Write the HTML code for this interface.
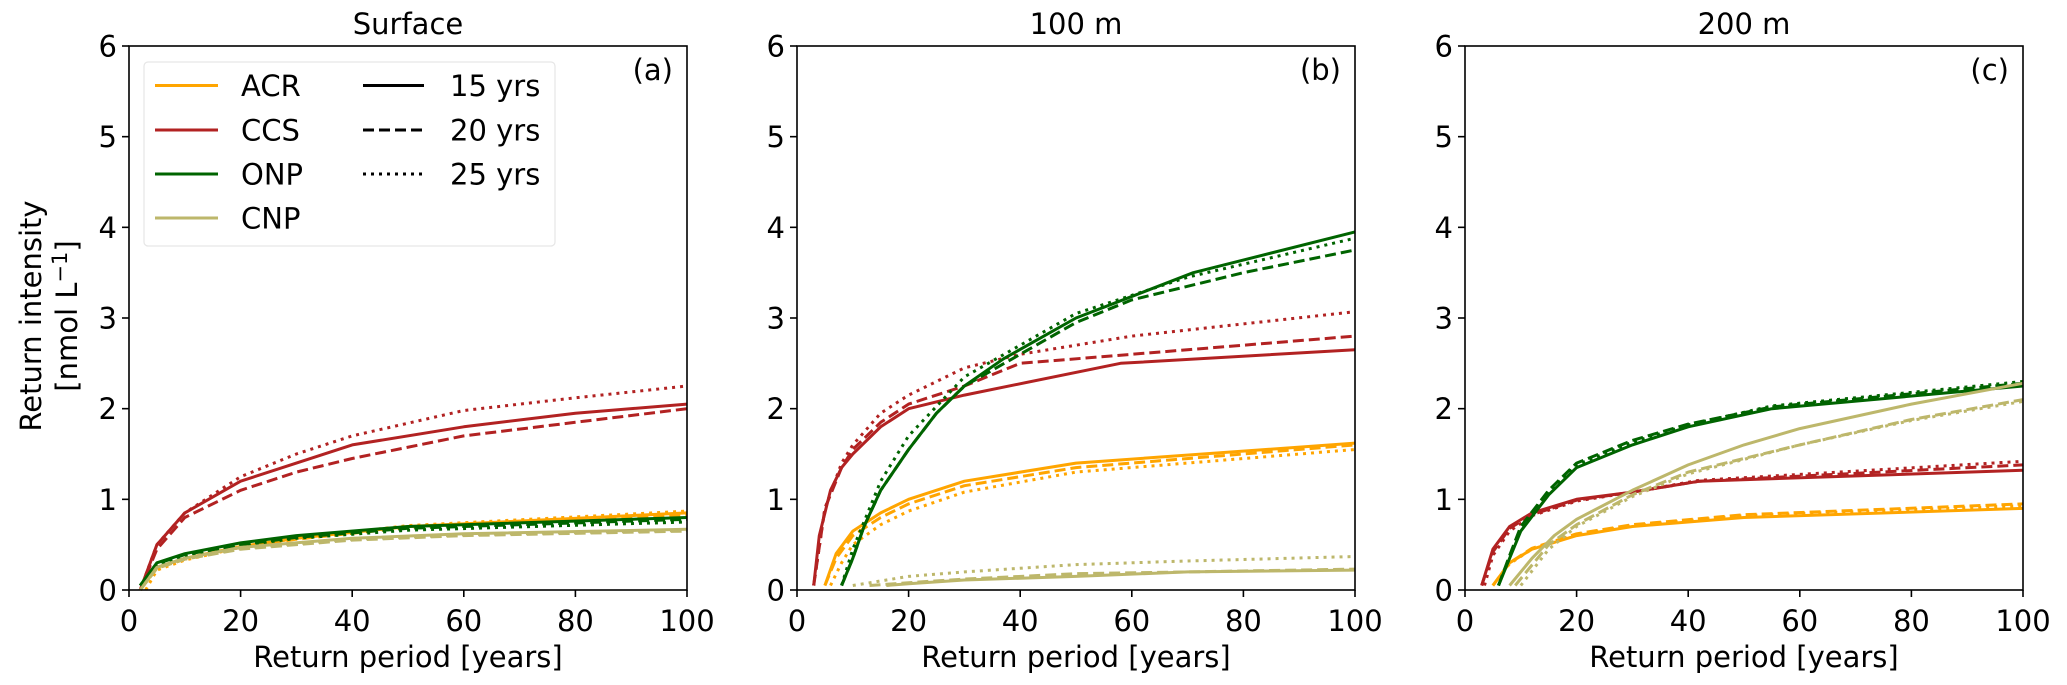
<!DOCTYPE html>
<html><head><meta charset="utf-8">
<style>
html,body{margin:0;padding:0;background:#fff;}
svg{display:block;font-family:"DejaVu Sans","Liberation Sans",sans-serif;}
</style></head>
<body>
<svg id="chart" width="2067" height="685" viewBox="0 0 2067 685" xmlns="http://www.w3.org/2000/svg"></svg>
<script>
// ---- data ----
const xTicks = [0,20,40,60,80,100];
const yTicks = [0,1,2,3,4,5,6];
const panelTitles = ["Surface","100 m","200 m"];
const panelTags = ["(a)","(b)","(c)"];
const regions = ["ACR","CCS","ONP","CNP"];
const periods = ["15 yrs","20 yrs","25 yrs"];

// Panel a (surface)
const A_ACR_15 = [[2,0],[5,0.25],[10,0.35],[20,0.48],[30,0.57],[50,0.7],[100,0.85]];
const A_ACR_20 = [[2,0],[5,0.24],[10,0.34],[20,0.47],[30,0.56],[50,0.69],[100,0.83]];
const A_ACR_25 = [[3,0],[5,0.22],[10,0.33],[20,0.47],[30,0.57],[50,0.71],[100,0.87]];
const A_CCS_15 = [[2,0],[5,0.5],[10,0.85],[20,1.2],[30,1.4],[40,1.6],[60,1.8],[80,1.95],[100,2.05]];
const A_CCS_20 = [[2,0],[5,0.45],[10,0.8],[20,1.1],[30,1.3],[40,1.45],[60,1.7],[80,1.85],[100,2.0]];
const A_CCS_25 = [[2,0],[5,0.5],[10,0.85],[20,1.25],[30,1.5],[40,1.7],[60,1.98],[80,2.12],[100,2.25]];
const A_ONP_15 = [[2,0.05],[5,0.3],[10,0.4],[20,0.52],[30,0.6],[50,0.7],[100,0.8]];
const A_ONP_20 = [[2,0.05],[5,0.29],[10,0.39],[20,0.5],[30,0.58],[50,0.68],[100,0.78]];
const A_ONP_25 = [[2,0.05],[5,0.28],[10,0.38],[20,0.49],[30,0.57],[50,0.66],[100,0.75]];
const A_CNP_15 = [[2,0],[5,0.25],[10,0.35],[20,0.47],[40,0.57],[60,0.62],[100,0.67]];
const A_CNP_20 = [[2,0],[5,0.24],[10,0.34],[20,0.45],[40,0.55],[60,0.6],[100,0.65]];
const A_CNP_25 = [[2,0],[5,0.25],[10,0.35],[20,0.46],[40,0.56],[60,0.61],[100,0.66]];

// Panel b (100 m)
const B_ACR_15 = [[5,0.05],[7,0.4],[10,0.65],[15,0.85],[20,1.0],[30,1.2],[50,1.4],[100,1.62]];
const B_ACR_20 = [[5,0.05],[7,0.35],[10,0.6],[15,0.8],[20,0.95],[30,1.15],[50,1.35],[100,1.6]];
const B_ACR_25 = [[6,0.05],[8,0.3],[10,0.5],[15,0.72],[20,0.87],[30,1.08],[50,1.3],[100,1.55]];
const B_CCS_15 = [[3,0.05],[4,0.6],[6,1.1],[8,1.35],[10,1.5],[15,1.8],[20,2.0],[30,2.15],[58,2.5],[100,2.65]];
const B_CCS_20 = [[3,0.05],[5,0.9],[8,1.35],[10,1.55],[15,1.85],[20,2.05],[30,2.25],[40,2.5],[60,2.6],[100,2.8]];
const B_CCS_25 = [[3,0.05],[5,0.9],[8,1.4],[10,1.6],[15,1.95],[20,2.15],[30,2.45],[40,2.6],[60,2.8],[100,3.07]];
const B_ONP_15 = [[8,0.05],[10,0.35],[12,0.7],[15,1.1],[20,1.55],[25,1.95],[30,2.25],[37,2.55],[50,3.0],[71,3.5],[100,3.95]];
const B_ONP_20 = [[8,0.05],[10,0.35],[12,0.7],[15,1.1],[20,1.55],[25,1.95],[30,2.25],[40,2.6],[50,2.95],[60,3.2],[80,3.5],[100,3.75]];
const B_ONP_25 = [[8,0.05],[10,0.45],[15,1.2],[20,1.7],[30,2.35],[40,2.7],[50,3.05],[70,3.45],[100,3.88]];
const B_CNP_15 = [[16,0.05],[20,0.07],[30,0.11],[50,0.15],[70,0.2],[100,0.22]];
const B_CNP_20 = [[13,0.05],[20,0.08],[30,0.12],[50,0.18],[70,0.2],[100,0.23]];
const B_CNP_25 = [[10,0.05],[20,0.15],[30,0.2],[50,0.28],[70,0.32],[100,0.37]];

// Panel c (200 m)
const C_ACR_15 = [[5,0.05],[8,0.3],[12,0.45],[20,0.6],[30,0.7],[50,0.8],[100,0.9]];
const C_ACR_20 = [[5,0.05],[8,0.3],[12,0.46],[20,0.62],[30,0.72],[50,0.83],[100,0.95]];
const C_ACR_25 = [[5,0.05],[8,0.29],[12,0.45],[20,0.61],[30,0.71],[50,0.82],[100,0.93]];
const C_CCS_15 = [[3,0.05],[5,0.45],[8,0.7],[12,0.85],[20,1.0],[30,1.08],[42,1.2],[100,1.32]];
const C_CCS_20 = [[3,0.05],[5,0.42],[8,0.68],[12,0.83],[20,0.99],[30,1.08],[42,1.2],[100,1.38]];
const C_CCS_25 = [[3.5,0.05],[5,0.38],[8,0.65],[12,0.82],[20,0.98],[30,1.08],[42,1.21],[100,1.42]];
const C_ONP_15 = [[6,0.05],[8,0.35],[10,0.65],[15,1.05],[20,1.35],[30,1.6],[40,1.8],[55,2.0],[100,2.25]];
const C_ONP_20 = [[6,0.05],[8,0.38],[10,0.7],[15,1.1],[20,1.4],[30,1.65],[40,1.83],[55,2.02],[100,2.28]];
const C_ONP_25 = [[6,0.05],[8,0.37],[10,0.68],[15,1.08],[20,1.38],[30,1.63],[40,1.82],[55,2.03],[100,2.3]];
const C_CNP_15 = [[8,0.05],[12,0.35],[16,0.6],[20,0.78],[30,1.1],[40,1.38],[50,1.6],[60,1.78],[80,2.05],[100,2.28]];
const C_CNP_20 = [[9,0.05],[15,0.5],[20,0.72],[30,1.05],[40,1.3],[60,1.6],[80,1.88],[100,2.1]];
const C_CNP_25 = [[10,0.05],[15,0.45],[20,0.7],[30,1.03],[40,1.28],[60,1.6],[80,1.87],[100,2.08]];

const panelSeries = [
  [A_ACR_15,A_ACR_20,A_ACR_25,A_CCS_15,A_CCS_20,A_CCS_25,A_ONP_15,A_ONP_20,A_ONP_25,A_CNP_15,A_CNP_20,A_CNP_25],
  [B_ACR_15,B_ACR_20,B_ACR_25,B_CCS_15,B_CCS_20,B_CCS_25,B_ONP_15,B_ONP_20,B_ONP_25,B_CNP_15,B_CNP_20,B_CNP_25],
  [C_ACR_15,C_ACR_20,C_ACR_25,C_CCS_15,C_CCS_20,C_CCS_25,C_ONP_15,C_ONP_20,C_ONP_25,C_CNP_15,C_CNP_20,C_CNP_25]
];

// ---- styling / layout ----
const colors = {ACR:"#FFA500",CCS:"#B22222",ONP:"#006400",CNP:"#BDB76B"};
const dashes = ["", "11 5", "3 5"];
const panelLeft = [129,797,1465];
const PW = 558, TOP = 46, BOT = 590;
const svg = document.getElementById('chart');
const NS = "http://www.w3.org/2000/svg";
function mk(tag, attrs, parent){
  const e = document.createElementNS(NS, tag);
  for (const k in attrs) e.setAttribute(k, attrs[k]);
  (parent||svg).appendChild(e);
  return e;
}
function xs(p, v){ return panelLeft[p] + v/100*PW; }
function ys(v){ return BOT - v/6*(BOT-TOP); }

for (let p=0;p<3;p++){
  const g = mk('g',{});
  
  
  const L = panelLeft[p];
  for (let r=0;r<4;r++){
    for (let d=0; d<3; d++){
      const pts = panelSeries[p][r*3+d];
      const pl = mk('polyline',{points: pts.map(q=>xs(p,q[0]).toFixed(1)+","+ys(q[1]).toFixed(1)).join(" "),
        fill:"none", stroke:colors[regions[r]], "stroke-width":3, "stroke-dasharray":dashes[d], "stroke-linejoin":"round"}, g);
      
      
    }
  }
  const fr = mk('rect',{x:L,y:TOP,width:PW,height:BOT-TOP,fill:"none",stroke:"#000","stroke-width":1.6}, g);
  
  
  xTicks.forEach(t=>{
    const x = xs(p,t);
    mk('line',{x1:x,x2:x,y1:BOT,y2:BOT+7,stroke:"#000","stroke-width":1.6}, g);
    const tx = mk('text',{x:x,y:631,"text-anchor":"middle","font-size":29,fill:"#000"}, g);
    tx.textContent = t;
    
    
  });
  yTicks.forEach(t=>{
    const y = ys(t);
    mk('line',{x1:L-7,x2:L,y1:y,y2:y,stroke:"#000","stroke-width":1.6}, g);
    const tx = mk('text',{x:L-12,y:y+10.5,"text-anchor":"end","font-size":29,fill:"#000"}, g);
    tx.textContent = t;
    
    
  });
  const ti = mk('text',{x:L+PW/2,y:34,"text-anchor":"middle","font-size":29,fill:"#000"}, g);
  ti.textContent = panelTitles[p];
  
  
  const tg = mk('text',{x:L+PW-14,y:80,"text-anchor":"end","font-size":29,fill:"#000"}, g);
  tg.textContent = panelTags[p];
  
  
  const xl = mk('text',{x:L+PW/2,y:667,"text-anchor":"middle","font-size":29,fill:"#000"}, g);
  xl.textContent = "Return period [years]";
  
  
}

const yt1 = mk('text',{x:0,y:0,"text-anchor":"middle","font-size":29,fill:"#000",transform:"translate(41,316) rotate(-90)"});
yt1.textContent = "Return intensity";


const yt2 = mk('text',{x:0,y:0,"text-anchor":"middle","font-size":29,fill:"#000",transform:"translate(77,316) rotate(-90)"});
yt2.innerHTML = '[nmol L<tspan dy="-10" font-size="21">−1</tspan><tspan dy="10">]</tspan>';



const lg = mk('g',{});


mk('rect',{x:144,y:62,width:411,height:184,rx:4,fill:"#fff","fill-opacity":0.8,stroke:"#e6e6e6","stroke-width":1.2}, lg);
const legY = [85.5,130,174,218];
regions.forEach((r,i)=>{
  const e = mk('g',{}, lg);
  
  
  mk('line',{x1:155,x2:218,y1:legY[i],y2:legY[i],stroke:colors[r],"stroke-width":3}, e);
  const t = mk('text',{x:241,y:legY[i]+10.5,"font-size":29,fill:"#000"}, e);
  t.textContent = r;
});
periods.forEach((s,i)=>{
  const e = mk('g',{}, lg);
  
  
  mk('line',{x1:363,x2:424,y1:legY[i],y2:legY[i],stroke:"#000","stroke-width":3,"stroke-dasharray":dashes[i]}, e);
  const t = mk('text',{x:450,y:legY[i]+10.5,"font-size":29,fill:"#000"}, e);
  t.textContent = s;
});
</script>
</body></html>
